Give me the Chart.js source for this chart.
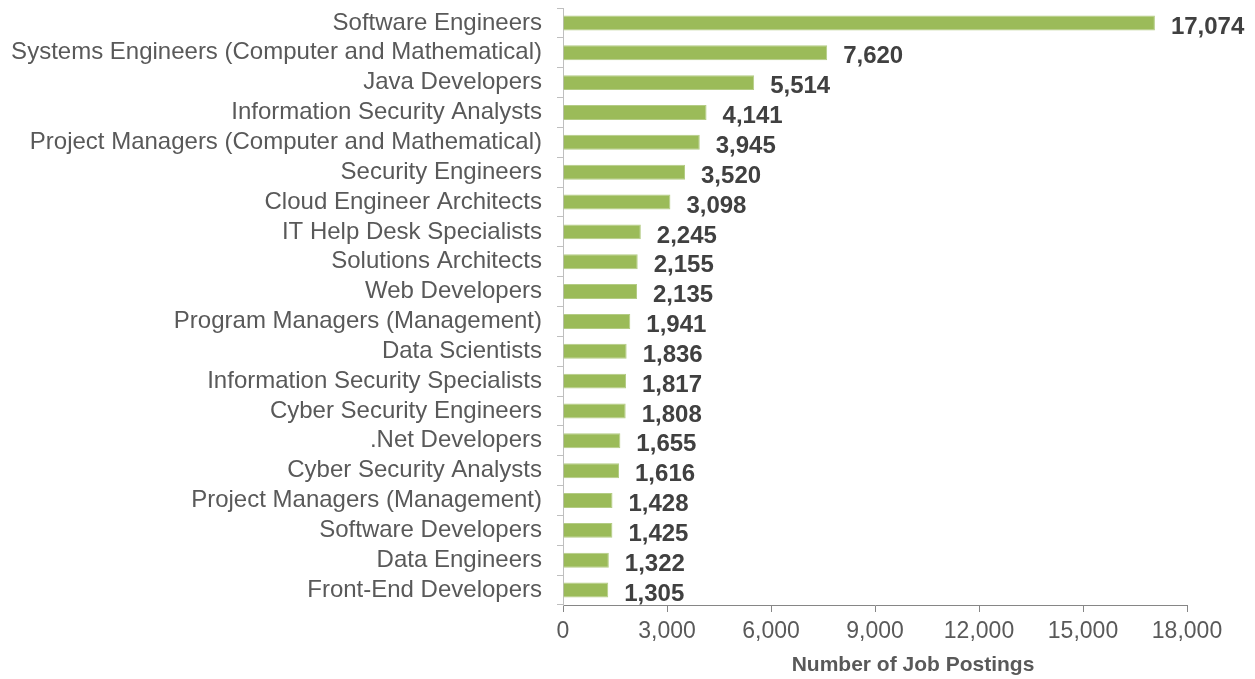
<!DOCTYPE html>
<html>
<head>
<meta charset="utf-8">
<script src="https://cdn.jsdelivr.net/npm/chart.js@4"></script>
<style>
  html, body { margin: 0; padding: 0; background: #fff; }
  #wrap { width: 1255px; height: 679px; position: relative; }
</style>
</head>
<body>
<div id="wrap"><canvas id="jobsChart"></canvas></div>
<script>
const occupations = [
  "Software Engineers",
  "Systems Engineers (Computer and Mathematical)",
  "Java Developers",
  "Information Security Analysts",
  "Project Managers (Computer and Mathematical)",
  "Security Engineers",
  "Cloud Engineer Architects",
  "IT Help Desk Specialists",
  "Solutions Architects",
  "Web Developers",
  "Program Managers (Management)",
  "Data Scientists",
  "Information Security Specialists",
  "Cyber Security Engineers",
  ".Net Developers",
  "Cyber Security Analysts",
  "Project Managers (Management)",
  "Software Developers",
  "Data Engineers",
  "Front-End Developers"
];

const postings = [
  17074, 7620, 5514, 4141, 3945, 3520, 3098, 2245, 2155, 2135,
  1941, 1836, 1817, 1808, 1655, 1616, 1428, 1425, 1322, 1305
];

const xTicks = [0, 3000, 6000, 9000, 12000, 15000, 18000];
const xAxisTitle = "Number of Job Postings";

const labelFont = "Liberation Sans, Arial, sans-serif";

/* value labels at the end of each bar + the x axis title */
const barValueLabels = {
  id: "barValueLabels",
  afterDatasetsDraw(chart) {
    const ctx = chart.ctx;
    const meta = chart.getDatasetMeta(0);
    ctx.save();
    ctx.font = "bold 24px " + labelFont;
    ctx.fillStyle = "#404040";
    ctx.textAlign = "left";
    ctx.textBaseline = "middle";
    meta.data.forEach((bar, i) => {
      ctx.fillText(postings[i].toLocaleString("en-US"), bar.x + 16, bar.y + 4);
    });

    // axis title sits a little right of the plot centre in the original
    const area = chart.chartArea;
    ctx.font = "bold 21px " + labelFont;
    ctx.fillStyle = "#595959";
    ctx.textAlign = "center";
    ctx.fillText(xAxisTitle, (area.left + area.right) / 2 + 38, area.bottom + 60);
    ctx.restore();
  }
};

new Chart(document.querySelector("#jobsChart"), {
  type: "bar",
  data: {
    labels: occupations,
    datasets: [
      {
        label: xAxisTitle,
        data: postings,
        backgroundColor: "#9BBB59",
        borderColor: "#B4CC85",
        borderWidth: 1,
        barPercentage: 0.5,
        categoryPercentage: 1
      }
    ]
  },
  options: {
    indexAxis: "y",
    responsive: true,
    maintainAspectRatio: false,
    animation: false,
    layout: {
      padding: { top: 8, right: 68, bottom: 0, left: 0 }
    },
    plugins: {
      legend: { display: false },
      tooltip: { enabled: false }
    },
    scales: {
      x: {
        min: 0,
        max: 18000,
        afterBuildTicks: scale => {
          scale.ticks = xTicks.map(v => ({ value: v }));
        },
        afterFit: scale => {
          scale.height = 74;
        },
        border: { display: true, color: "#868686", width: 1 },
        grid: {
          drawOnChartArea: false,
          drawTicks: true,
          tickLength: 7,
          color: "#868686"
        },
        ticks: {
          color: "#595959",
          font: { family: labelFont, size: 23 },
          padding: 6,
          maxRotation: 0,
          callback: value => value.toLocaleString("en-US")
        }
      },
      y: {
        afterFit: scale => {
          scale.width = 563;
          scale.paddingTop = 0;
          scale.paddingBottom = 0;
        },
        border: { display: true, color: "#BFBFBF", width: 1 },
        grid: {
          offset: true,
          drawOnChartArea: false,
          drawTicks: true,
          tickLength: 6,
          color: "#BFBFBF"
        },
        ticks: {
          color: "#595959",
          font: { family: labelFont, size: 24 },
          padding: 15,
          autoSkip: false
        }
      }
    }
  },
  plugins: [barValueLabels]
});
</script>
</body>
</html>
